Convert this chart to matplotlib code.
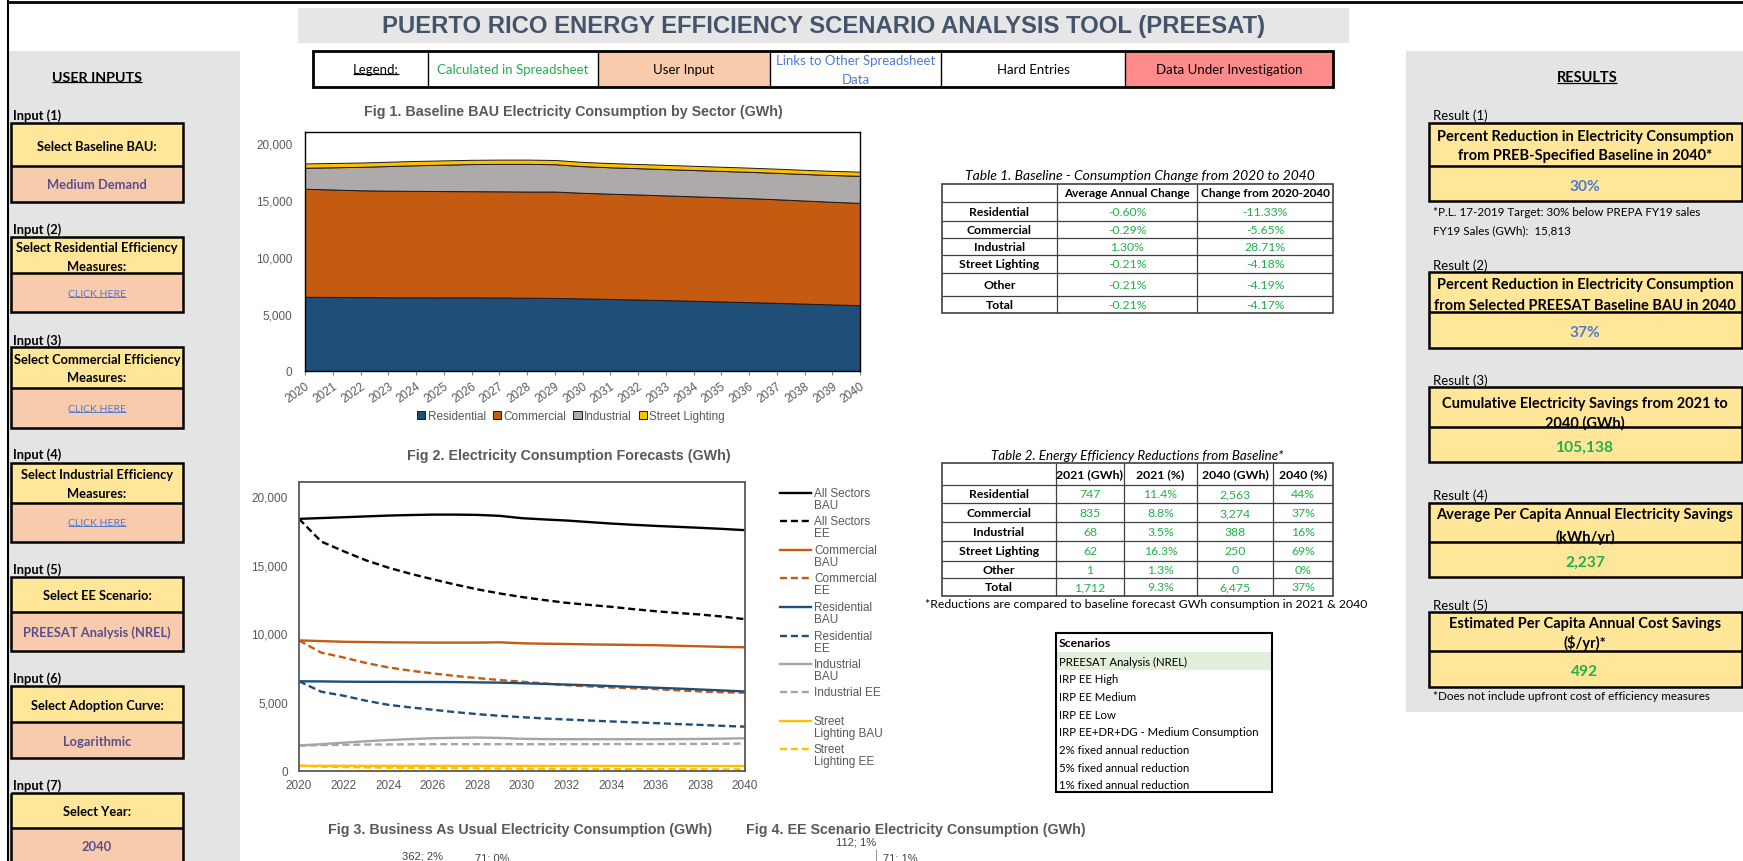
import matplotlib.pyplot as plt
import matplotlib.patches as patches
import matplotlib.ticker as mticker

# canvas size in pixels (everything below is laid out in screenshot pixels)
W, H = 1743, 862

# ---- data (GWh) ----
years = list(range(2020, 2041))

residential_bau = [6520, 6510, 6490, 6480, 6480, 6470, 6470, 6460, 6440, 6420, 6380,
                   6330, 6280, 6230, 6170, 6110, 6050, 5990, 5920, 5850, 5780]
commercial_bau = [9490, 9440, 9390, 9370, 9350, 9340, 9330, 9330, 9330, 9350, 9280,
                  9250, 9230, 9200, 9180, 9160, 9140, 9100, 9060, 9020, 8990]
industrial_bau = [1850, 1950, 2060, 2160, 2250, 2320, 2380, 2410, 2430, 2400, 2340,
                  2320, 2310, 2310, 2310, 2310, 2310, 2320, 2330, 2350, 2380]
street_bau = [380, 379, 378, 377, 377, 376, 375, 374, 374, 373, 372,
              371, 370, 370, 369, 368, 367, 366, 366, 365, 364]
all_bau = [18320, 18380, 18440, 18500, 18560, 18600, 18630, 18630, 18610, 18540, 18370,
           18280, 18200, 18090, 17980, 17890, 17810, 17740, 17670, 17590, 17500]

all_ee = [18320, 16670, 15970, 15310, 14780, 14330, 13930, 13550, 13200, 12900, 12640,
          12420, 12220, 12070, 11930, 11760, 11610, 11480, 11370, 11220, 11030]
commercial_ee = [9490, 8600, 8250, 7850, 7530, 7290, 7090, 6910, 6750, 6610, 6490,
                 6360, 6240, 6150, 6070, 6010, 5950, 5860, 5780, 5720, 5690]
residential_ee = [6520, 5760, 5470, 5110, 4810, 4620, 4450, 4280, 4130, 4010, 3910,
                  3820, 3740, 3670, 3600, 3540, 3480, 3410, 3350, 3280, 3220]
industrial_ee = [1850, 1880, 1900, 1920, 1930, 1940, 1950, 1950, 1950, 1950, 1950,
                 1950, 1950, 1950, 1960, 1960, 1960, 1970, 1970, 1980, 1990]
street_ee = [380, 317, 285, 260, 240, 225, 210, 198, 188, 178, 170,
             162, 155, 148, 142, 136, 131, 126, 121, 117, 114]

sectors = ['Residential', 'Commercial', 'Industrial', 'Street Lighting']

# table 1
t1_rows = ['Residential', 'Commercial', 'Industrial', 'Street Lighting', 'Other', 'Total']
t1_cols = ['Average Annual Change', 'Change from 2020-2040']
t1_avg = ['-0.60%', '-0.29%', '1.30%', '-0.21%', '-0.21%', '-0.21%']
t1_chg = ['-11.33%', '-5.65%', '28.71%', '-4.18%', '-4.19%', '-4.17%']

# table 2
t2_cols = ['2021 (GWh)', '2021 (%)', '2040 (GWh)', '2040 (%)']
t2_gwh21 = ['747', '835', '68', '62', '1', '1,712']
t2_pct21 = ['11.4%', '8.8%', '3.5%', '16.3%', '1.3%', '9.3%']
t2_gwh40 = ['2,563', '3,274', '388', '250', '0', '6,475']
t2_pct40 = ['44%', '37%', '16%', '69%', '0%', '37%']

scenarios = ['PREESAT Analysis (NREL)', 'IRP EE High', 'IRP EE Medium', 'IRP EE Low',
             'IRP EE+DR+DG - Medium Consumption', '2% fixed annual reduction',
             '5% fixed annual reduction', '1% fixed annual reduction']

input_labels = ['Input (1)', 'Input (2)', 'Input (3)', 'Input (4)', 'Input (5)', 'Input (6)', 'Input (7)']
input_heads = [['Select Baseline BAU:'], ['Select Residential Efficiency', 'Measures:'],
               ['Select Commercial Efficiency', 'Measures:'], ['Select Industrial Efficiency', 'Measures:'],
               ['Select EE Scenario:'], ['Select Adoption Curve:'], ['Select Year:']]
input_values = ['Medium Demand', 'CLICK HERE', 'CLICK HERE', 'CLICK HERE',
                'PREESAT Analysis (NREL)', 'Logarithmic', '2040']

result_labels = ['Result (1)', 'Result (2)', 'Result (3)', 'Result (4)', 'Result (5)']
result_heads = [['Percent Reduction in Electricity Consumption', 'from PREB-Specified Baseline in 2040*'],
                ['Percent Reduction in Electricity Consumption', 'from Selected PREESAT Baseline BAU in 2040'],
                ['Cumulative Electricity Savings from 2021 to', '2040 (GWh)'],
                ['Average Per Capita Annual Electricity Savings', '(kWh/yr)'],
                ['Estimated Per Capita Annual Cost Savings', '($/yr)*']]
result_values = ['30%', '37%', '105,138', '2,237', '492']

# ---- colours / fonts ----
C_RES, C_COM, C_IND, C_STR = '#1F4E79', '#C55A11', '#AEAAAA', '#FFC000'
GRAY_BG = '#E4E4E4'
YELLOW, PEACH, REDC = '#FFE699', '#F8CBAD', '#FF8B8B'
GREEN, BLUE, PURPLE = '#21B04B', '#4F7BD0', '#594F8C'
CAL = ['Lato', 'DejaVu Sans']
NAR = ['Liberation Sans Narrow', 'Liberation Sans', 'DejaVu Sans']
FIG_T = 10.3

fig = plt.figure(figsize=(W / 100, H / 100), dpi=100)
bg = fig.add_axes([0, 0, 1, 1])
bg.set_xlim(0, W)
bg.set_ylim(H, 0)
bg.axis('off')


def rect(x0, y0, x1, y1, fc='none', ec='none', lw=0.0, z=1):
    bg.add_patch(patches.Rectangle((x0, y0), x1 - x0, y1 - y0, facecolor=fc,
                                   edgecolor=ec, linewidth=lw, zorder=z))


def txt(x, y, s, size=8.5, color='black', weight='normal', ha='center', family=CAL, style='normal'):
    return bg.text(x, y, s, fontsize=size, color=color, fontweight=weight, ha=ha,
                   va='center', family=family, style=style, zorder=5)


def hline(x0, x1, y, lw=1.0, color='black'):
    bg.plot([x0, x1], [y, y], color=color, lw=lw, zorder=4, solid_capstyle='butt')


def vline(x, y0, y1, lw=1.0, color='black'):
    bg.plot([x, x], [y0, y1], color=color, lw=lw, zorder=4, solid_capstyle='butt')


renderer = fig.canvas.get_renderer()


def underline(t, color='black', lw=0.9):
    bb = t.get_window_extent(renderer)
    hline(bb.x0, bb.x1, H - bb.y0 - 1.5, lw=lw, color=color)


def px_axes(x0, y0, x1, y1):
    return fig.add_axes([x0 / W, 1 - y1 / H, (x1 - x0) / W, (y1 - y0) / H])


# ---- page frame, title, legend bar ----
hline(8, W, 3, lw=2)
vline(8, 0, H, lw=1.5)
rect(298, 9, 1349, 44, fc='#E7E6E6')
txt(824, 26, 'PUERTO RICO ENERGY EFFICIENCY SCENARIO ANALYSIS TOOL (PREESAT)',
    size=17.2, color='#44546A', weight='bold', family=NAR)

cells = [313, 428, 598, 770, 941, 1125, 1333]
rect(cells[2], 52, cells[3], 88, fc=PEACH)
rect(cells[5], 52, cells[6], 88, fc=REDC)
for cx in cells[1:-1]:
    vline(cx, 52, 88, lw=1)
rect(313, 52, 1333, 88, ec='black', lw=2, z=4)
underline(txt(376, 70, 'Legend:', size=9.5))
txt(513, 70, 'Calculated in Spreadsheet', size=9.5, color=GREEN)
txt(684, 70, 'User Input', size=9.5)
txt(856, 61, 'Links to Other Spreadsheet', size=9.5, color=BLUE)
txt(856, 80, 'Data', size=9.5, color=BLUE)
txt(1033, 70, 'Hard Entries', size=9.5)
txt(1229, 70, 'Data Under Investigation', size=9.5)

# ---- left panel: user inputs ----
rect(9, 52, 240, H, fc=GRAY_BG, z=0)
underline(txt(97, 78, 'USER INPUTS', size=10.3, weight='bold'))
in_label_y = [116, 230, 341, 455, 570, 679, 786]
in_boxes = [(124, 167, 203), (238, 274, 313), (348, 389, 429), (464, 504, 543),
            (578, 613, 652), (687, 723, 759), (794, 829, 876)]
in_head_y = [[147], [248, 267], [360, 378], [475, 494], [596], [706], [812]]
in_val_y = [185, 295, 410, 524, 633, 742, 847]
for i in range(len(input_labels)):
    top, mid, bot = in_boxes[i]
    txt(13, in_label_y[i], input_labels[i], size=9.3, weight='bold', ha='left')
    rect(11, top, 183, mid, fc=YELLOW)
    rect(11, mid, 183, bot, fc=PEACH)
    rect(11, top, 183, bot, ec='black', lw=1.8, z=4)
    hline(11, 183, mid, lw=1.8)
    for line, y in zip(input_heads[i], in_head_y[i]):
        txt(97, y, line, size=9.3, weight='bold')
    if input_values[i] == 'CLICK HERE':
        underline(txt(97, in_val_y[i], 'CLICK HERE', size=7.5, color=BLUE), color=BLUE, lw=0.7)
    else:
        txt(97, in_val_y[i], input_values[i], size=9.3, color=PURPLE, weight='bold')

# ---- right panel: results ----
rect(1406, 52, W, 713, fc=GRAY_BG, z=0)
underline(txt(1587, 78, 'RESULTS', size=10.5, weight='bold'))
res_label_y = [116, 266, 381, 496, 606]
res_boxes = [(124, 167, 202), (273, 313, 349), (388, 428, 463), (504, 543, 578), (613, 652, 688)]
res_head_y = [[137, 156], [285, 306], [404, 423], [515, 537], [624, 643]]
res_val_y = [187, 333, 448, 563, 672]
res_val_col = [BLUE, BLUE, GREEN, GREEN, GREEN]
for i in range(len(result_labels)):
    top, mid, bot = res_boxes[i]
    txt(1433, res_label_y[i], result_labels[i], size=9.5, ha='left')
    rect(1429, top, W - 1, bot, fc=YELLOW, ec='black', lw=1.8, z=3)
    hline(1429, W - 1, mid, lw=1.8)
    for line, y in zip(result_heads[i], res_head_y[i]):
        txt(1585, y, line, size=10.5, weight='bold')
    txt(1585, res_val_y[i], result_values[i], size=11.2, color=res_val_col[i], weight='bold')
txt(1433, 213, '*P.L. 17-2019 Target: 30% below PREPA FY19 sales', size=8.4, ha='left')
txt(1433, 231, 'FY19 Sales (GWh):  15,813', size=8.4, ha='left')
txt(1433, 697, '*Does not include upfront cost of efficiency measures', size=8.4, ha='left')

# ---- Fig 1: stacked area ----
txt(573, 112, 'Fig 1. Baseline BAU Electricity Consumption by Sector (GWh)',
    size=FIG_T, color='#595959', weight='bold', family=NAR)
ax1 = px_axes(305, 133, 860, 372)
polys = ax1.stackplot(years, residential_bau, commercial_bau, industrial_bau, street_bau,
                      colors=[C_RES, C_COM, C_IND, C_STR], labels=sectors,
                      edgecolor='#1a1a1a', linewidth=0.7)
ax1.set_xlim(2020, 2040)
ax1.set_ylim(0, 21000)
ax1.set_yticks(range(0, 20001, 5000))
ax1.yaxis.set_major_formatter(mticker.StrMethodFormatter('{x:,.0f}'))
ax1.set_xticks(years)
ax1.set_xticklabels([str(y) for y in years], rotation=35, ha='right', va='top', rotation_mode='anchor')
ax1.tick_params(axis='y', length=0, pad=9, labelsize=8.5, labelcolor='#595959')
ax1.tick_params(axis='x', length=3, color='#808080', pad=3, labelsize=8.5, labelcolor='#595959')
for lab in ax1.get_xticklabels() + ax1.get_yticklabels():
    lab.set_family(NAR)
for sp in ax1.spines.values():
    sp.set_color('black')
    sp.set_linewidth(1.0)
fig.legend(handles=polys, labels=sectors, loc='center', bbox_to_anchor=(571 / W, 1 - 417 / H),
           ncol=4, frameon=False, handlelength=0.7, handleheight=0.7, handletextpad=0.2,
           columnspacing=0.6, prop={'family': NAR, 'size': 8.5}, labelcolor='#595959')

# ---- Table 1 ----
txt(1140, 176, 'Table 1. Baseline - Consumption Change from 2020 to 2040', size=10, style='italic')
t1_x = [942, 1057, 1197, 1333]
t1_y = [185, 203, 222, 239, 256, 274, 297, 314]
for y in t1_y[1:-1]:
    hline(t1_x[0], t1_x[-1], y, lw=0.9, color='#404040')
for x in t1_x[1:-1]:
    vline(x, t1_y[0], t1_y[-1], lw=0.9, color='#404040')
rect(t1_x[0], t1_y[0], t1_x[-1], t1_y[-1], ec='#404040', lw=1.2, z=4)
for j, c in enumerate(t1_cols):
    txt((t1_x[j + 1] + t1_x[j + 2]) / 2, (t1_y[0] + t1_y[1]) / 2, c, size=8.5, weight='bold')
for i, r in enumerate(t1_rows):
    yc = (t1_y[i + 1] + t1_y[i + 2]) / 2
    txt((t1_x[0] + t1_x[1]) / 2, yc, r, size=8.8, weight='bold')
    txt((t1_x[1] + t1_x[2]) / 2, yc, t1_avg[i], size=8.8, color=GREEN)
    txt((t1_x[2] + t1_x[3]) / 2, yc, t1_chg[i], size=8.8, color=GREEN)

# ---- Table 2 ----
txt(1137, 456, 'Table 2. Energy Efficiency Reductions from Baseline*', size=9.6, style='italic')
t2_x = [942, 1056, 1124, 1197, 1273, 1333]
t2_y = [464, 486, 504, 523, 542, 562, 579, 597]
for y in t2_y[1:-1]:
    hline(t2_x[0], t2_x[-1], y, lw=0.9, color='#404040')
for x in t2_x[1:-1]:
    vline(x, t2_y[0], t2_y[-1], lw=0.9, color='#404040')
rect(t2_x[0], t2_y[0], t2_x[-1], t2_y[-1], ec='#404040', lw=1.2, z=4)
for j, c in enumerate(t2_cols):
    txt((t2_x[j + 1] + t2_x[j + 2]) / 2, (t2_y[0] + t2_y[1]) / 2, c, size=8.8, weight='bold')
for i, r in enumerate(t1_rows):
    yc = (t2_y[i + 1] + t2_y[i + 2]) / 2
    txt((t2_x[0] + t2_x[1]) / 2, yc, r, size=8.8, weight='bold')
    for j, col in enumerate([t2_gwh21, t2_pct21, t2_gwh40, t2_pct40]):
        txt((t2_x[j + 1] + t2_x[j + 2]) / 2, yc, col[i], size=8.8, color=GREEN)
txt(925, 605, '*Reductions are compared to baseline forecast GWh consumption in 2021 & 2040',
    size=8.8, ha='left')

# ---- Scenarios list ----
rect(1056, 653, 1272, 671, fc='#E2EFDA')
rect(1056, 634, 1272, 793, ec='black', lw=1.5, z=4)
txt(1059, 644, 'Scenarios', size=8.8, weight='bold', ha='left')
for k, s in enumerate(scenarios):
    txt(1059, 662 + k * 17.7, s, size=8.2, ha='left')

# ---- Fig 2: forecast lines ----
txt(569, 456, 'Fig 2. Electricity Consumption Forecasts (GWh)', size=FIG_T, color='#595959',
    weight='bold', family=NAR)
ax2 = px_axes(299, 483, 745, 772)
dash = (0, (3, 1.6))
series = [(all_bau, 'black', '-'), (all_ee, 'black', dash),
          (commercial_bau, C_COM, '-'), (commercial_ee, C_COM, dash),
          (residential_bau, C_RES, '-'), (residential_ee, C_RES, dash),
          (industrial_bau, '#A5A5A5', '-'), (industrial_ee, '#A5A5A5', dash),
          (street_bau, C_STR, '-'), (street_ee, C_STR, dash)]
for vals, col, ls in series:
    ax2.plot(years, vals, color=col, linestyle=ls, lw=1.7)
ax2.set_xlim(2020, 2040)
ax2.set_ylim(0, 21000)
ax2.set_yticks(range(0, 20001, 5000))
ax2.yaxis.set_major_formatter(mticker.StrMethodFormatter('{x:,.0f}'))
ax2.set_xticks(range(2020, 2041, 2))
ax2.tick_params(length=0, labelsize=8.5, labelcolor='#595959')
ax2.tick_params(axis='y', pad=8)
ax2.tick_params(axis='x', pad=6)
for lab in ax2.get_xticklabels() + ax2.get_yticklabels():
    lab.set_family(NAR)
for sp in ax2.spines.values():
    sp.set_color('#595959')
    sp.set_linewidth(1.3)

# legend drawn beside the plot, handle level with first text line
leg_labels = [['All Sectors', 'BAU'], ['All Sectors', 'EE'], ['Commercial', 'BAU'], ['Commercial', 'EE'],
              ['Residential', 'BAU'], ['Residential', 'EE'], ['Industrial', 'BAU'], ['Industrial EE'],
              ['Street', 'Lighting BAU'], ['Street', 'Lighting EE']]
leg_y = [494, 522, 551, 579, 608, 637, 665, 693, 722, 750]
for (vals, col, ls), lines, y in zip(series, leg_labels, leg_y):
    bg.plot([780, 811], [y, y], color=col, linestyle=ls, lw=1.7, zorder=4)
    for k, line in enumerate(lines):
        txt(814, y + k * 12, line, size=8.5, color='#595959', ha='left', family=NAR)

# ---- Fig 3 / Fig 4 (only their tops are on screen) ----
txt(520, 830, 'Fig 3. Business As Usual Electricity Consumption (GWh)', size=FIG_T,
    color='#595959', weight='bold', family=NAR)
txt(916, 830, 'Fig 4. EE Scenario Electricity Consumption (GWh)', size=FIG_T,
    color='#595959', weight='bold', family=NAR)
txt(427, 856, '362; 2% _', size=8, color='#404040', family=NAR)
txt(492, 859, '71; 0%', size=8, color='#404040', family=NAR)
txt(856, 843, '112; 1%', size=8, color='#404040', family=NAR)
txt(900, 859, '71; 1%', size=8, color='#404040', family=NAR)
vline(876, 850, H, lw=0.6, color='#808080')

fig.savefig('out.png', dpi=100)
